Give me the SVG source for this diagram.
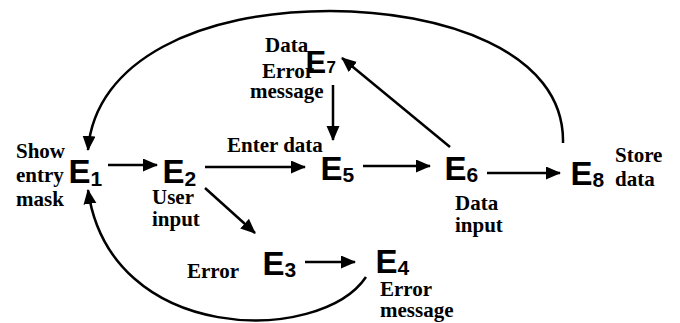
<svg xmlns="http://www.w3.org/2000/svg" width="680" height="323" viewBox="0 0 680 323">
<style>
.E{font-family:"Liberation Sans",Arial,sans-serif;font-weight:bold;font-size:33px;fill:#000}
.s{font-family:"Liberation Sans",Arial,sans-serif;font-weight:bold;font-size:21px;fill:#000}
.l{font-family:"Liberation Serif","Times New Roman",serif;font-weight:bold;font-size:21px;fill:#000}
.c{fill:none;stroke:#000;stroke-width:2.5;marker-end:url(#ah)}
</style>
<defs>
<marker id="ah" markerUnits="userSpaceOnUse" markerWidth="16" markerHeight="14" refX="14" refY="6.5" orient="auto">
<path d="M0,0 L15,6.5 L0,13 z" fill="#000"/>
</marker>
</defs>
<rect width="680" height="323" fill="#fff"/>
<g id="connectors">
<path class="c" d="M108,165 L157,165"/>
<path class="c" d="M205,167 L305,167"/>
<path class="c" d="M363,166 L430,166"/>
<path class="c" d="M487,173 L560,173"/>
<path class="c" d="M305,262 L355,262"/>
<path class="c" d="M205,188 L255,233"/>
<path class="c" d="M333,85 L333,140"/>
<path class="c" d="M450,147 L342,58"/>
<path class="c" d="M563,143 C565,50 440,11 330,11 C200,11 95,60 88,150"/>
<path class="c" d="M366,277 C320,345 110,345 88,190"/>
</g>
<g id="E1"><text class="l" x="16" y="158">Show</text><text class="l" x="16" y="182">entry</text><text class="l" x="16" y="206">mask</text><text class="E" x="68.5" y="183">E</text><text class="s" x="90.5" y="186">1</text></g>
<g id="E2"><text class="E" x="162.5" y="183">E</text><text class="s" x="184.5" y="186">2</text><text class="l" x="152" y="204">User</text><text class="l" x="152" y="226">input</text></g>
<g id="E5"><text class="l" x="227" y="152">Enter data</text><text class="E" x="320.5" y="180">E</text><text class="s" x="342.5" y="182">5</text></g>
<g id="E6"><text class="E" x="444.5" y="180">E</text><text class="s" x="466.5" y="182">6</text><text class="l" x="455" y="210">Data</text><text class="l" x="455" y="232">input</text></g>
<g id="E8"><text class="E" x="570.5" y="185">E</text><text class="s" x="592.5" y="187">8</text><text class="l" x="615" y="162">Store</text><text class="l" x="615" y="186">data</text></g>
<g id="E7"><text class="l" x="265" y="52">Data</text><text class="l" x="262" y="78">Error</text><text class="l" x="250" y="98">message</text><text class="E" x="305.5" y="73" style="font-size:31px">E</text><text class="s" x="326.5" y="73" style="font-size:17px">7</text></g>
<g id="E3"><text class="l" x="187" y="278">Error</text><text class="E" x="262.5" y="275">E</text><text class="s" x="284.5" y="277">3</text></g>
<g id="E4"><text class="E" x="375.5" y="273">E</text><text class="s" x="397.5" y="275">4</text><text class="l" x="380" y="296">Error</text><text class="l" x="380" y="317">message</text></g>
</svg>
